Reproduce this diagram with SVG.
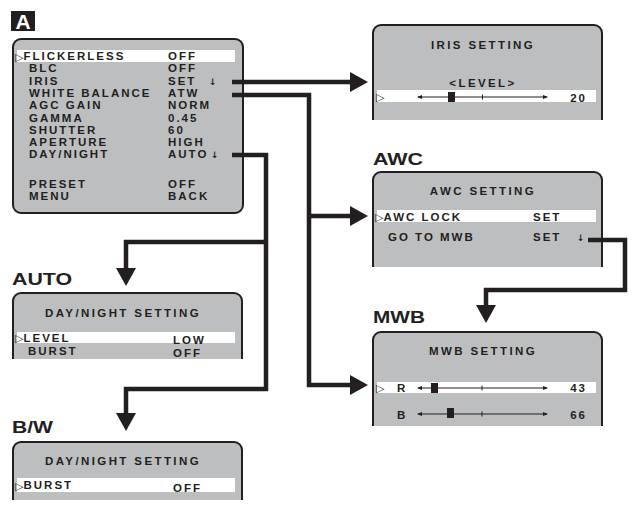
<svg xmlns="http://www.w3.org/2000/svg" width="632" height="513" viewBox="0 0 632 513">
<style>
.bg{fill:#ffffff}
.box{fill:#bcbec0;stroke:#231f20;stroke-width:2}
.hl{fill:#ffffff}
.t{font-family:"Liberation Sans",Arial,sans-serif;font-weight:bold;font-size:11.5px;letter-spacing:2px;fill:#231f20}
.hd{font-family:"Liberation Sans",Arial,sans-serif;font-weight:bold;font-size:11.5px;letter-spacing:2.4px;fill:#231f20;text-anchor:middle}
.tri{font-family:"DejaVu Sans",sans-serif;font-weight:bold;font-size:11px;letter-spacing:0}
.arr{font-family:"DejaVu Sans",sans-serif;font-weight:bold;font-size:9px;letter-spacing:0;fill:#231f20}
.lbl{font-family:"Liberation Sans",Arial,sans-serif;font-weight:bold;font-size:17px;fill:#231f20}
.conn{fill:none;stroke:#231f20;stroke-width:4.5;stroke-linejoin:miter}
.sl{stroke:#231f20;stroke-width:1;fill:none}
.knob{fill:#231f20}
</style>
<defs>
<marker id="ah" markerUnits="userSpaceOnUse" markerWidth="18" markerHeight="20" refX="0" refY="10" orient="auto">
<path d="M0,0 L18,10 L0,20 z" fill="#231f20"/>
</marker>
<marker id="sa" markerUnits="userSpaceOnUse" markerWidth="5" markerHeight="5" refX="4" refY="2.5" orient="auto-start-reverse">
<path d="M0,0.5 L5,2.5 L0,4.5 z" fill="#231f20"/>
</marker>
</defs>
<rect class="bg" x="0" y="0" width="632" height="513"/>

<g id="badge-A">
<rect x="11" y="11" width="24" height="20" fill="#231f20"/>
<text x="23" y="29" text-anchor="middle" style="font-family:'Liberation Sans',Arial,sans-serif;font-weight:bold;font-size:21px;fill:#ffffff">A</text>
</g>

<g id="main-menu">
<rect class="box" x="13" y="39" width="230" height="174" rx="8"/>
<rect class="hl" x="17" y="50" width="218" height="12"/>
<text class="t" x="15" y="60.5"><tspan class="tri">▷</tspan><tspan y="60">FLICKERLESS</tspan></text>
<text class="t" x="168" y="60">OFF</text>
<text class="t" x="29" y="72.3">BLC</text>
<text class="t" x="168" y="72.3">OFF</text>
<text class="t" x="29" y="84.6">IRIS</text>
<text class="t" x="168" y="84.6">SET</text>
<text class="arr" x="209" y="84.6">↓</text>
<text class="t" x="29" y="96.9">WHITE BALANCE</text>
<text class="t" x="168" y="96.9">ATW</text>
<text class="t" x="29" y="109.2">AGC GAIN</text>
<text class="t" x="168" y="109.2">NORM</text>
<text class="t" x="29" y="121.5">GAMMA</text>
<text class="t" x="168" y="121.5">0.45</text>
<text class="t" x="29" y="133.8">SHUTTER</text>
<text class="t" x="168" y="133.8">60</text>
<text class="t" x="29" y="146.1">APERTURE</text>
<text class="t" x="168" y="146.1">HIGH</text>
<text class="t" x="29" y="158.2">DAY/NIGHT</text>
<text class="t" x="168" y="158.2">AUTO</text>
<text class="arr" x="211" y="158.2">↓</text>
<text class="t" x="29" y="188">PRESET</text>
<text class="t" x="168" y="188">OFF</text>
<text class="t" x="29" y="200">MENU</text>
<text class="t" x="168" y="200">BACK</text>
</g>

<g id="iris-setting">
<path class="box" d="M373,120 V33 A8,8 0 0 1 381,25 H594 A8,8 0 0 1 602,33 V120"/>
<text class="hd" x="483" y="49">IRIS SETTING</text>
<text class="hd" x="483" y="87">&lt;LEVEL&gt;</text>
<rect class="hl" x="377" y="90" width="219" height="12"/>
<text class="t" x="376" y="101"><tspan class="tri">▷</tspan></text>
<line class="sl" x1="418" y1="97" x2="547" y2="97" marker-start="url(#sa)" marker-end="url(#sa)"/>
<line class="sl" x1="482.5" y1="94.5" x2="482.5" y2="99.5"/>
<rect class="knob" x="448" y="92" width="7" height="10"/>
<text class="t" x="587" y="101.5" text-anchor="end">20</text>
</g>

<g id="awc-setting">
<text class="lbl" x="373" y="165" textLength="50" lengthAdjust="spacingAndGlyphs">AWC</text>
<path class="box" d="M373,267 V180 A8,8 0 0 1 381,172 H594 A8,8 0 0 1 602,180 V267"/>
<text class="hd" x="483" y="195">AWC SETTING</text>
<rect class="hl" x="377" y="210" width="219" height="12"/>
<text class="t" x="375" y="221"><tspan class="tri">▷</tspan><tspan y="220.5">AWC LOCK</tspan></text>
<text class="t" x="533" y="220.5">SET</text>
<text class="t" x="388" y="241">GO TO MWB</text>
<text class="t" x="533" y="241">SET</text>
<text class="arr" x="577" y="241">↓</text>
</g>

<g id="mwb-setting">
<text class="lbl" x="373" y="323" textLength="52" lengthAdjust="spacingAndGlyphs">MWB</text>
<path class="box" d="M373,426 V340 A8,8 0 0 1 381,332 H594 A8,8 0 0 1 602,340 V426"/>
<text class="hd" x="483" y="355">MWB SETTING</text>
<rect class="hl" x="377" y="382" width="219" height="11"/>
<text class="t" x="376" y="392"><tspan class="tri">▷</tspan></text>
<text class="t" x="397" y="392">R</text>
<line class="sl" x1="418" y1="388" x2="547" y2="388" marker-start="url(#sa)" marker-end="url(#sa)"/>
<line class="sl" x1="482" y1="385.5" x2="482" y2="390.5"/>
<rect class="knob" x="431" y="383" width="7" height="10"/>
<text class="t" x="587" y="392" text-anchor="end">43</text>
<text class="t" x="397" y="419">B</text>
<line class="sl" x1="418" y1="414" x2="547" y2="414" marker-start="url(#sa)" marker-end="url(#sa)"/>
<line class="sl" x1="482" y1="411.5" x2="482" y2="416.5"/>
<rect class="knob" x="447" y="408" width="7" height="10"/>
<text class="t" x="587" y="419" text-anchor="end">66</text>
</g>

<g id="auto-setting">
<text class="lbl" x="12" y="285" textLength="60" lengthAdjust="spacingAndGlyphs">AUTO</text>
<path class="box" d="M13,359 V301 A8,8 0 0 1 21,293 H234 A8,8 0 0 1 242,301 V359"/>
<text class="hd" x="123" y="317">DAY/NIGHT SETTING</text>
<rect class="hl" x="17" y="332" width="218" height="11"/>
<text class="t" x="15" y="342"><tspan class="tri">▷</tspan><tspan y="341.5">LEVEL</tspan></text>
<text class="t" x="173" y="344">LOW</text>
<text class="t" x="28" y="355">BURST</text>
<text class="t" x="173" y="356.5">OFF</text>
</g>

<g id="bw-setting">
<text class="lbl" x="12" y="433" textLength="41" lengthAdjust="spacingAndGlyphs">B/W</text>
<path class="box" d="M13,500 V450 A8,8 0 0 1 21,442 H234 A8,8 0 0 1 242,450 V500"/>
<text class="hd" x="123" y="465">DAY/NIGHT SETTING</text>
<rect class="hl" x="17" y="478" width="218" height="14"/>
<text class="t" x="15" y="489.5"><tspan class="tri">▷</tspan><tspan y="489">BURST</tspan></text>
<text class="t" x="173" y="492">OFF</text>
</g>

<g id="connectors">
<path class="conn" d="M232,82 H350" marker-end="url(#ah)"/>
<path class="conn" d="M232,95 H309 V385 H350" marker-end="url(#ah)"/>
<path class="conn" d="M309,216 H350" marker-end="url(#ah)"/>
<path class="conn" d="M232,155 H266 V389 H126 V413" marker-end="url(#ah)"/>
<path class="conn" d="M266,242 H126 V268" marker-end="url(#ah)"/>
<path class="conn" d="M588,240 H625 V290 H486 V305" marker-end="url(#ah)"/>
</g>
</svg>
